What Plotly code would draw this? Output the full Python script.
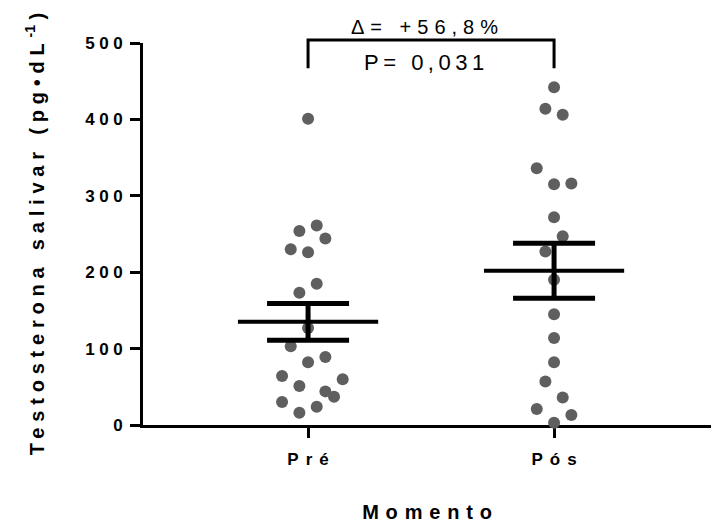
import plotly.graph_objects as go

# ---- data ----
groups = ["Pré", "Pós"]
pre_values = [401, 261, 254, 244, 230, 226, 185, 173, 127, 103, 89, 82, 64, 60, 51, 44, 37, 30, 24, 16]
pre_jitter = [0, 1, -1, 2, -2, 0, 1, -1, 0, -2, 2, 0, -3, 4, -1, 2, 3, -3, 1, -1]
pos_values = [442, 414, 406, 336, 315, 316, 272, 247, 227, 190, 145, 114, 82, 57, 36, 21, 13, 3]
pos_jitter = [0, -1, 1, -2, 0, 2, 0, 1, -1, 0, 0, 0, 0, -1, 1, -2, 2, 0]
means = [135, 202]
sems = [24, 36]
y_ticks = [0, 100, 200, 300, 400, 500]
delta_label = "Δ= +56,8%"
p_label = "P= 0,031"
y_title_main = "Testosterona salivar (pg•dL"
y_title_sup = "-1"
y_title_end = ")"
x_title = "Momento"

FONT = "Liberation Sans, Arial, sans-serif"
DOT = "#5f5f5f"
JSTEP = 0.0352
Y_MAX = 500


def spaced(s, px):
    """letter-spaced text without trailing space after the last glyph"""
    s = str(s)
    return f'<span style="letter-spacing:{px}px">{s[:-1]}</span>{s[-1]}'


fig = go.Figure()

for i, (vals, jit) in enumerate([(pre_values, pre_jitter), (pos_values, pos_jitter)]):
    fig.add_trace(go.Scatter(
        x=[i + j * JSTEP for j in jit], y=vals, mode="markers",
        marker=dict(size=12, color=DOT, line=dict(width=0)),
        cliponaxis=False, showlegend=False, hoverinfo="y"))

for i, (m, s) in enumerate(zip(means, sems)):
    fig.add_trace(go.Scatter(
        x=[i], y=[m], mode="markers",
        marker=dict(size=1, color="rgba(0,0,0,0)"),
        error_y=dict(type="data", array=[s], visible=True, color="black",
                     thickness=5, width=41),
        showlegend=False, hoverinfo="skip"))
    fig.add_trace(go.Scatter(
        x=[i - 0.285, i + 0.285], y=[m, m], mode="lines",
        line=dict(color="black", width=4),
        showlegend=False, hoverinfo="skip"))

# significance bracket (x in data, y in paper above the plot)
top = 504 / Y_MAX
leg = 467 / Y_MAX
fig.add_shape(type="path", xref="x", yref="paper",
              path=f"M 0 {leg} L 0 {top} L 1 {top} L 1 {leg}",
              line=dict(color="black", width=3))
fig.add_annotation(x=0.5, xref="x", xshift=-7, y=1.042, yref="paper", yanchor="middle",
                   text=spaced(delta_label, 6), showarrow=False,
                   font=dict(family=FONT, size=20, color="black"))
fig.add_annotation(x=0.5, xref="x", xshift=-7, y=0.950, yref="paper", yanchor="middle",
                   text=spaced(p_label, 4.5), showarrow=False,
                   font=dict(family=FONT, size=22, color="black"))

fig.update_layout(
    width=711, height=523,
    margin=dict(l=143, r=0, t=43, b=98),
    plot_bgcolor="white", paper_bgcolor="white",
    font=dict(family=FONT, color="black"),
    showlegend=False,
)
fig.update_xaxes(
    range=[-0.671, 1.638], tickvals=[0, 1],
    ticktext=[f"<b>{spaced(g, 7)}</b>" for g in groups],
    showline=True, linecolor="black", linewidth=3,
    ticks="outside", ticklen=10, tickwidth=3, tickcolor="black",
    tickfont=dict(family=FONT, size=17, color="black"),
    ticklabelstandoff=7,
    showgrid=False, zeroline=False, layer="below traces", automargin=False,
    title=dict(text=f"<b>{spaced(x_title, 6.8)}</b>", standoff=40,
               font=dict(family=FONT, size=20, color="black")),
)
y_title_html = (f'<b><span style="letter-spacing:5.8px">{y_title_main}</span>'
                f'<sup>{y_title_sup}</sup> {y_title_end}</b>')
fig.update_yaxes(
    range=[0, Y_MAX], tickvals=y_ticks,
    ticktext=[f"<b>{spaced(t, 4.5)}</b>" for t in y_ticks],
    showline=True, linecolor="black", linewidth=3,
    ticks="outside", ticklen=10, tickwidth=3, tickcolor="black",
    tickfont=dict(family=FONT, size=17, color="black"),
    ticklabelstandoff=4,
    showgrid=False, zeroline=False, layer="below traces", automargin=False,
    title=dict(text=y_title_html, standoff=36,
               font=dict(family=FONT, size=20, color="black")),
)

fig.write_html("out.html", config={"displayModeBar": False},
               post_script="document.body.style.margin='0';")
